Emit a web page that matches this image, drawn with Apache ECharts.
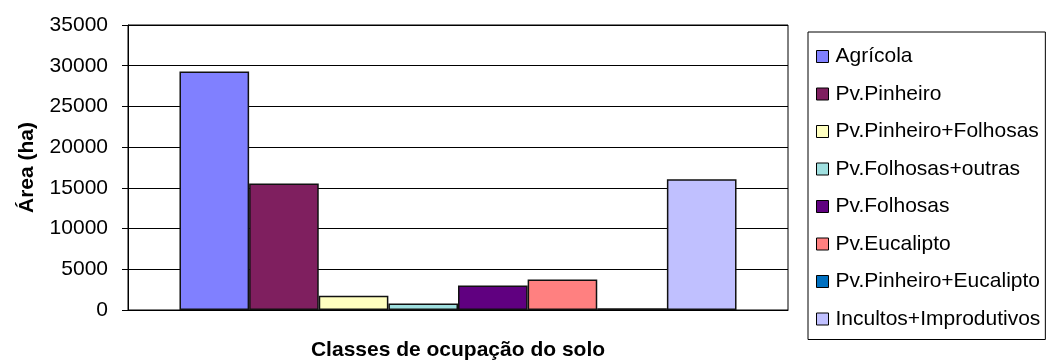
<!DOCTYPE html>
<html>
<head>
<meta charset="utf-8">
<script src="https://cdn.jsdelivr.net/npm/echarts@6/dist/echarts.min.js"></script>
<style>
  html, body { margin: 0; padding: 0; background: #ffffff; }
  #chart { width: 1048px; height: 363px; }
</style>
</head>
<body>
<div id="chart"></div>
<script>
// Land-use classes (one bar series each) and their areas in hectares
const classNames = [
  'Agrícola',
  'Pv.Pinheiro',
  'Pv.Pinheiro+Folhosas',
  'Pv.Folhosas+outras',
  'Pv.Folhosas',
  'Pv.Eucalipto',
  'Pv.Pinheiro+Eucalipto',
  'Incultos+Improdutivos'
];
const areaHa = [29300, 15550, 1750, 800, 3000, 3750, 200, 16050];
const classColors = ['#8080FF', '#7F1F5F', '#FFFFC0', '#A0E0E0', '#600080', '#FF8080', '#0070C0', '#C0C0FF'];
const categories = [''];
const yTicks = { min: 0, max: 35000, interval: 5000 };

const FONT = '"Liberation Sans", Arial, sans-serif';

const chart = echarts.init(document.getElementById('chart'), null, { renderer: 'canvas' });

const series = classNames.map((name, i) => ({
  name: name,
  type: 'bar',
  data: [areaHa[i]],
  barGap: '0%',
  barCategoryGap: '15.6%',
  itemStyle: { color: classColors[i], borderColor: '#111', borderWidth: 1.5 },
  emphasis: { disabled: true },
  animation: false
}));

chart.setOption({
  backgroundColor: '#ffffff',
  animation: false,
  grid: {
    left: 128, right: 260, top: 25, bottom: 53,
    outerBoundsMode: 'none',
    containLabel: false,
    show: true, borderColor: '#000', borderWidth: 1, backgroundColor: '#ffffff'
  },
  legend: {
    orient: 'vertical',
    left: 808,
    top: 32,
    padding: [14, 5, 10, 8],
    itemGap: 16.5,
    itemWidth: 12,
    itemHeight: 12,
    icon: 'rect',
    borderColor: '#000',
    borderWidth: 1,
    backgroundColor: '#ffffff',
    selectedMode: false,
    itemStyle: { borderColor: '#000', borderWidth: 1 },
    textStyle: { fontFamily: FONT, fontSize: 21, color: '#000', padding: [0, 0, 0, 2] },
    data: classNames
  },
  xAxis: {
    type: 'category',
    data: categories,
    name: 'Classes de ocupação do solo',
    nameLocation: 'middle',
    nameGap: 30,
    nameTextStyle: { fontFamily: FONT, fontSize: 21, fontWeight: 'bold', color: '#000' },
    axisLine: { lineStyle: { color: '#000', width: 1 } },
    axisTick: { show: false },
    axisLabel: { show: false }
  },
  yAxis: {
    type: 'value',
    min: yTicks.min,
    max: yTicks.max,
    interval: yTicks.interval,
    name: 'Área (ha)',
    nameLocation: 'middle',
    nameGap: 90,
    nameRotate: 90,
    nameTextStyle: { fontFamily: FONT, fontSize: 21, fontWeight: 'bold', color: '#000' },
    axisLine: { show: true, lineStyle: { color: '#000', width: 1 } },
    axisTick: { show: true, length: 6, lineStyle: { color: '#000' } },
    axisLabel: { fontFamily: FONT, fontSize: 21, color: '#000', margin: 20, formatter: v => String(v) },
    splitLine: { show: true, lineStyle: { color: '#000', width: 1 } }
  },
  series: series
});
</script>
</body>
</html>
